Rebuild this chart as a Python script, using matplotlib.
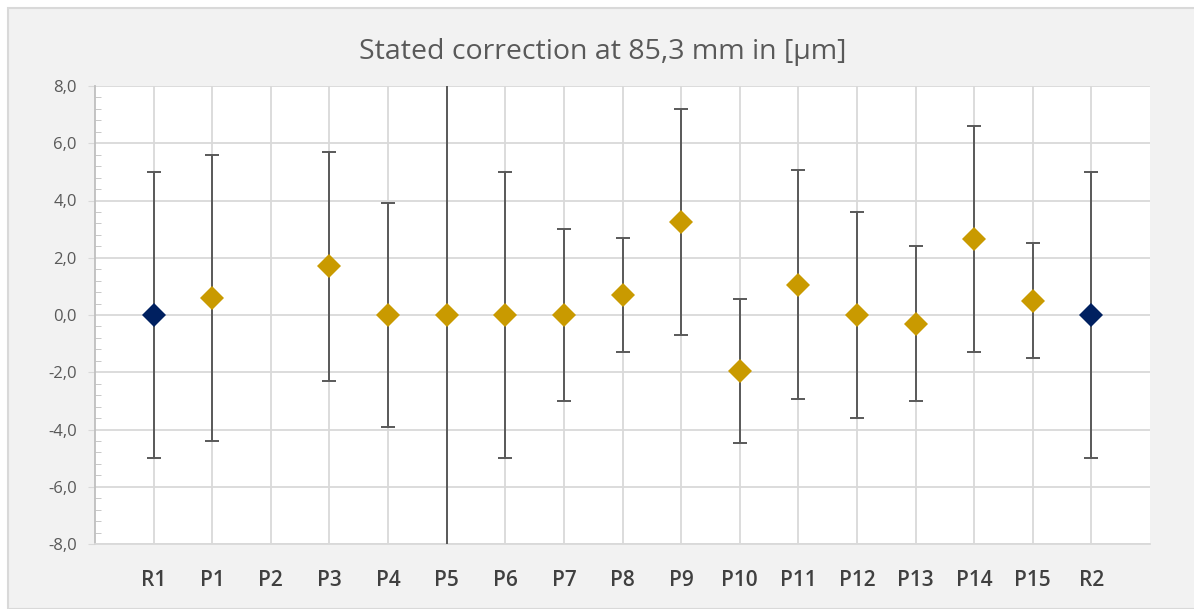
import numpy as np
import matplotlib.pyplot as plt
from matplotlib.patches import Rectangle
from matplotlib.ticker import MultipleLocator, FuncFormatter

# data (P2 has no value)
labels = ['R1', 'P1', 'P2', 'P3', 'P4', 'P5', 'P6', 'P7', 'P8', 'P9',
          'P10', 'P11', 'P12', 'P13', 'P14', 'P15', 'R2']
values = [0.0, 0.6, np.nan, 1.7, 0.0, 0.0, 0.0, 0.0, 0.7, 3.25,
          -1.95, 1.05, 0.0, -0.3, 2.65, 0.5, 0.0]
errors = [5.0, 5.0, np.nan, 4.0, 3.9, 10.0, 5.0, 3.0, 2.0, 3.95,
          2.52, 4.0, 3.6, 2.7, 3.95, 2.0, 5.0]
reference = ['R1', 'R2']

plt.rcParams['font.family'] = ['Open Sans', 'DejaVu Sans']

fig = plt.figure(figsize=(11.94, 6.09), dpi=100, facecolor='white')
fig.patches.append(Rectangle((8/1194, 0.5/609), 1.0, 1 - 8.5/609, transform=fig.transFigure,
                             facecolor='#f2f2f2', edgecolor='#d9d9d9', linewidth=1.5, zorder=-5))
ax = fig.add_axes([95/1194, 1 - 544/609, (1150-95)/1194, (544-86)/609])
ax.set_facecolor('white')

x = np.arange(len(labels))
vals = np.array(values)
errs = np.array(errors)
colors = ['#002060' if l in reference else '#c99a00' for l in labels]

ax.errorbar(x, vals, yerr=errs, fmt='none', ecolor='#595959', elinewidth=1.4,
            capsize=4.7, capthick=1.4, zorder=3)
for xi, v, c in zip(x, vals, colors):
    if not np.isnan(v):
        ax.plot(xi, v, marker='D', markersize=12, color=c, markeredgewidth=0, zorder=4)

ax.set_xlim(-1, len(labels))
ax.set_ylim(-8, 8)
ax.set_xticks(x)
ax.set_xticklabels(labels, fontsize=15, color='#404040', fontweight='semibold')
ax.yaxis.set_major_locator(MultipleLocator(2))
ax.yaxis.set_minor_locator(MultipleLocator(0.4))
ax.yaxis.set_major_formatter(FuncFormatter(lambda v, p: f'{v:.1f}'.replace('.', ',')))
ax.tick_params(axis='y', which='major', direction='out', length=5, color='#d9d9d9',
               labelsize=12, labelcolor='#595959', pad=8)
ax.tick_params(axis='y', which='minor', direction='in', length=4, color='#bfbfbf')
ax.tick_params(axis='x', length=0, pad=19)

ax.grid(True, which='major', color='#d9d9d9', linewidth=1.3)
ax.set_axisbelow(True)
for s in ['top', 'right']:
    ax.spines[s].set_visible(False)
ax.spines['left'].set_color('#bfbfbf')
ax.spines['bottom'].set_color('#d9d9d9')
ax.spines['left'].set_linewidth(1.3)
ax.spines['bottom'].set_linewidth(1.3)

fig.text(603/1194, 1 - 52/609, 'Stated correction at 85,3 mm in [µm]', ha='center', va='center',
         fontsize=20.5, color='#595959')

fig.savefig('out.png', dpi=100, facecolor=fig.get_facecolor())
